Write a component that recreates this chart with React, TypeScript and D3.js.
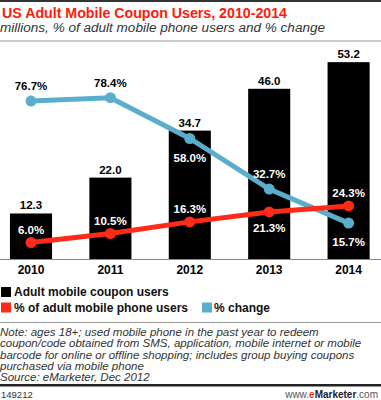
import React from "react";
import * as d3 from "d3";

const years = ["2010", "2011", "2012", "2013", "2014"];
const couponUsers = [12.3, 22.0, 34.7, 46.0, 53.2];
const pctOfPhoneUsers = [6.0, 10.5, 16.3, 21.3, 24.3];
const pctChange = [76.7, 78.4, 58.0, 32.7, 15.7];
// label placement: -1 above point, +1 below point
const changeLabelSide = [-1, -1, 1, -1, 1];
const phoneLabelSide = [-1, -1, -1, 1, -1];
const changeLabelColor = ["#000", "#000", "#fff", "#fff", "#fff"];

const title = "US Adult Mobile Coupon Users, 2010-2014";
const subtitle = "millions, % of adult mobile phone users and % change";
const legendItems = [
  { label: "Adult mobile coupon users", color: "#000" },
  { label: "% of adult mobile phone users", color: "#ff2a17" },
  { label: "% change", color: "#5aaecb" },
];
const noteLines = [
  "Note: ages 18+; used mobile phone in the past year to redeem",
  "coupon/code obtained from SMS, application, mobile internet or mobile",
  "barcode for online or offline shopping; includes group buying coupons",
  "purchased via mobile phone",
  "Source: eMarketer, Dec 2012",
];

const RED = "#ff2a17";
const BLUE = "#5aaecb";
const FONT = "'Liberation Sans', Arial, sans-serif";

export default function App() {
  const x = d3.scaleBand<string>().domain(years).range([-8.7, 388.3]).paddingInner(0.47).paddingOuter(0.235);
  const yBar = d3.scaleLinear().domain([0, 60]).range([259, 37]);
  const yPct = d3.scaleLinear().domain([0, 100]).range([254.5, 54.5]);
  const cx = (i: number) => (x(years[i]) as number) + x.bandwidth() / 2;
  const line = d3
    .line<number>()
    .x((_, i) => cx(i))
    .y((d) => yPct(d));

  return (
    <svg width={381} height={400} style={{ position: "absolute", left: 0, top: 0, background: "#fff" }} fontFamily={FONT}>
      <rect x={0} y={0} width={381} height={2} fill="#333" />
      <text x={2} y={18} fontSize={14} fontWeight="bold" fill="#ff1a0a" textLength={285} lengthAdjust="spacingAndGlyphs">
        {title}
      </text>
      <text x={0} y={31.5} fontSize={12} fontStyle="italic" fill="#333" textLength={325} lengthAdjust="spacingAndGlyphs">
        {subtitle}
      </text>
      <rect x={0} y={40.5} width={381} height={1} fill="#999" />

      {couponUsers.map((v, i) => (
        <g key={"b" + i}>
          <rect x={x(years[i])} y={yBar(v)} width={x.bandwidth()} height={yBar(0) - yBar(v)} fill="#000" />
          <text x={cx(i)} y={yBar(v) - 4} fontSize={11.5} fontWeight="bold" textAnchor="middle" fill="#000">
            {v.toFixed(1)}
          </text>
          <text x={cx(i)} y={273.5} fontSize={12} fontWeight="bold" textAnchor="middle" fill="#000">
            {years[i]}
          </text>
        </g>
      ))}
      <rect x={0} y={259} width={381} height={1} fill="#888" />

      <path d={line(pctChange) || ""} fill="none" stroke={BLUE} strokeWidth={5} />
      <path d={line(pctOfPhoneUsers) || ""} fill="none" stroke={RED} strokeWidth={5} />
      {pctChange.map((v, i) => (
        <g key={"c" + i}>
          <circle cx={cx(i)} cy={yPct(v)} r={5.5} fill={BLUE} />
          <text
            x={cx(i)}
            y={yPct(v) + (changeLabelSide[i] < 0 ? -11 : 23)}
            fontSize={11.5}
            fontWeight="bold"
            textAnchor="middle"
            fill={changeLabelColor[i]}
          >
            {v.toFixed(1)}%
          </text>
        </g>
      ))}
      {pctOfPhoneUsers.map((v, i) => (
        <g key={"p" + i}>
          <circle cx={cx(i)} cy={yPct(v)} r={5.5} fill={RED} />
          <text
            x={cx(i)}
            y={yPct(v) + (phoneLabelSide[i] < 0 ? -9 : 20)}
            fontSize={11.5}
            fontWeight="bold"
            textAnchor="middle"
            fill="#fff"
          >
            {v.toFixed(1)}%
          </text>
        </g>
      ))}

      {/* legend */}
      <rect x={1} y={287} width={10} height={10} fill={legendItems[0].color} />
      <text x={14} y={296} fontSize={12} fontWeight="bold" fill="#111">{legendItems[0].label}</text>
      <rect x={1} y={302.5} width={10} height={10} fill={legendItems[1].color} />
      <text x={14} y={311.5} fontSize={12} fontWeight="bold" fill="#111">{legendItems[1].label}</text>
      <rect x={202} y={302.5} width={10} height={10} fill={legendItems[2].color} />
      <text x={214} y={311.5} fontSize={12} fontWeight="bold" fill="#111">{legendItems[2].label}</text>

      <rect x={0} y={322} width={381} height={1} fill="#999" />
      {noteLines.map((t, i) => (
        <text key={"n" + i} x={0} y={336 + i * 11.3} fontSize={11.5} fontStyle="italic" fill="#333">
          {t}
        </text>
      ))}
      <rect x={0} y={384} width={381} height={2.5} fill="#222" />
      <text x={1} y={398} fontSize={9.5} fill="#333">149212</text>
      <text x={378} y={398} fontSize={10} textAnchor="end" fill="#555">
        www.<tspan fill={RED} fontWeight="bold">e</tspan>
        <tspan fontWeight="bold" fill="#222">Marketer</tspan>.com
      </text>
    </svg>
  );
}
